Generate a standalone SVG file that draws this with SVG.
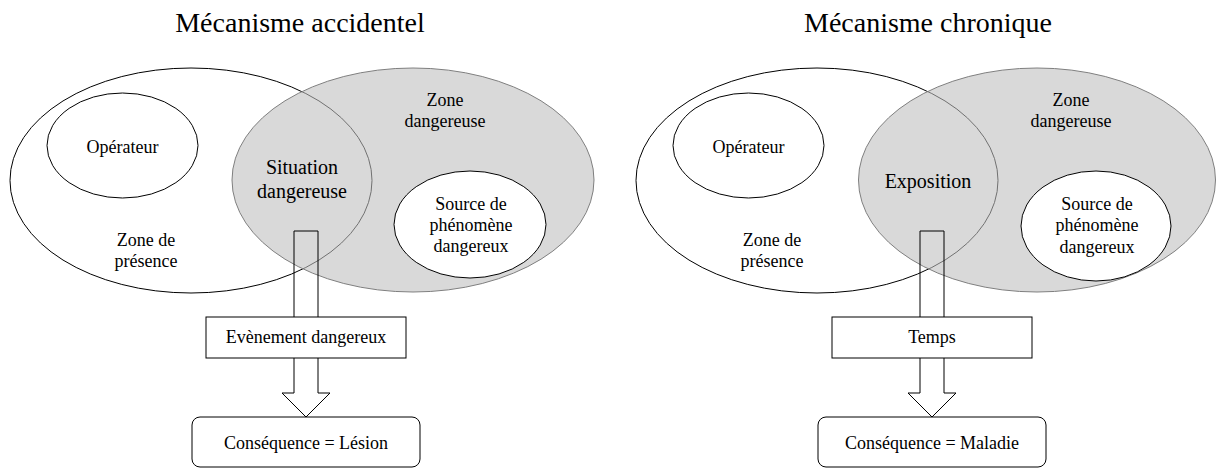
<svg xmlns="http://www.w3.org/2000/svg" width="1217" height="469" viewBox="0 0 1217 469">
<style>
text{font-family:"Liberation Serif","Times New Roman",serif;fill:#000;text-anchor:middle}
.t{font-size:28px}
.l{font-size:18px}
.b{font-size:20px}
.w{fill:#fff;stroke:#000;stroke-width:1}
.g{fill:#bfbfbf;fill-opacity:0.594;stroke:#7f7f7f;stroke-width:1}
.o{fill:none;stroke:#000;stroke-width:1}
.box{fill:#fff;stroke:#000;stroke-width:1}
</style>
<rect width="1217" height="469" fill="#fff"/>
<g id="left">
<text class="t" x="300" y="32">Mécanisme accidentel</text>
<g id="zone-presence-1"><ellipse class="w" cx="191" cy="180.5" rx="181" ry="112.5"/></g>
<g id="operateur-1"><ellipse class="w" cx="122.5" cy="145.5" rx="75.5" ry="52.5"/><text class="l" x="122.5" y="153">Opérateur</text></g>
<g id="zone-dangereuse-1"><ellipse class="g" cx="413" cy="180" rx="181" ry="112"/>
<text class="l" x="445" y="106">Zone</text><text class="l" x="445" y="127">dangereuse</text></g>
<g id="zone-presence-label-1"><text class="l" x="146" y="246">Zone de</text><text class="l" x="146" y="267">présence</text></g>
<g id="situation-1"><text class="b" x="302" y="174">Situation</text><text class="b" x="302" y="198">dangereuse</text></g>
<g id="source-1"><ellipse class="w" cx="470" cy="224.5" rx="76" ry="53.5"/>
<text class="l" x="471" y="210">Source de</text><text class="l" x="471" y="231">phénomène</text><text class="l" x="471" y="252">dangereux</text></g>
<g id="evenement-1"><rect class="box" x="206" y="317" width="200" height="41"/><text class="l" x="306" y="343">Evènement dangereux</text></g>
<g id="consequence-1"><rect class="box" x="192" y="417" width="228" height="50" rx="8"/><text class="l" x="306" y="449">Conséquence = Lésion</text></g>
</g>
<g id="right">
<text class="t" x="928" y="32">Mécanisme chronique</text>
<g id="zone-presence-2"><ellipse class="w" cx="817" cy="180.5" rx="181" ry="112.5"/></g>
<g id="operateur-2"><ellipse class="w" cx="748.5" cy="145.5" rx="75.5" ry="52.5"/><text class="l" x="748.5" y="153">Opérateur</text></g>
<g id="zone-dangereuse-2"><ellipse class="g" cx="1037" cy="180" rx="178.5" ry="112"/>
<text class="l" x="1071" y="106">Zone</text><text class="l" x="1071" y="127">dangereuse</text></g>
<g id="zone-presence-label-2"><text class="l" x="772" y="246">Zone de</text><text class="l" x="772" y="267">présence</text></g>
<g id="exposition-2"><text class="b" x="928" y="188">Exposition</text></g>
<g id="source-2"><ellipse class="w" cx="1096" cy="226" rx="75" ry="55"/>
<text class="l" x="1097" y="210">Source de</text><text class="l" x="1097" y="231">phénomène</text><text class="l" x="1097" y="253">dangereux</text></g>
<g id="temps-2"><rect class="box" x="832" y="317" width="200" height="41"/><text class="l" x="932" y="343">Temps</text></g>
<g id="consequence-2"><rect class="box" x="818" y="417" width="228" height="50" rx="8"/><text class="l" x="932" y="449">Conséquence = Maladie</text></g>
</g>
<g id="connectors">
<path class="o" d="M294,317 V231 H318 V317"/>
<path class="o" d="M294,358 V393 H282 L306,417 L330,393 H318 V358"/>
<path class="o" d="M920,317 V231 H944 V317"/>
<path class="o" d="M920,358 V393 H908 L932,417 L956,393 H944 V358"/>
</g>
</svg>
